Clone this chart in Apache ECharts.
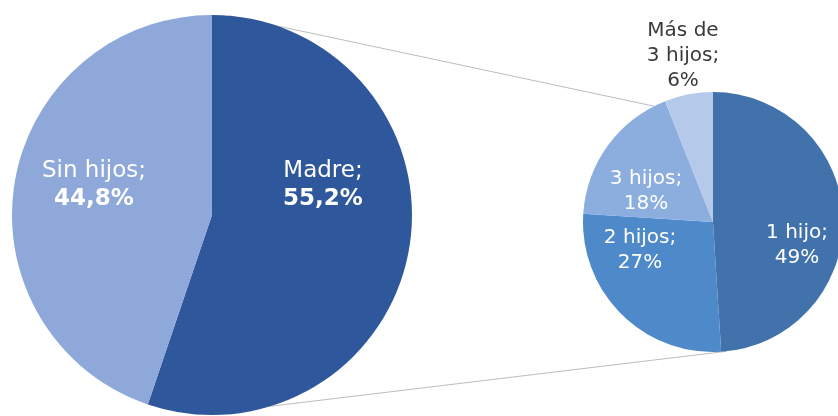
<!DOCTYPE html>
<html>
<head>
<meta charset="utf-8">
<script src="https://cdn.jsdelivr.net/npm/echarts@6/dist/echarts.min.js"></script>
<style>
html, body { margin: 0; padding: 0; background: #fff; }
#main { width: 838px; height: 416px; }
</style>
</head>
<body>
<div id="main"></div>
<script>
// data
const mainNames = ['Madre', 'Sin hijos']
const mainValues = [55.2, 44.8]
const childNames = ['1 hijo', '2 hijos', '3 hijos', 'Más de\n3 hijos']
const childValues = [49, 27, 18, 6]

// look
const mainColors = ['#2f579c', '#8ea8da']
const childColors = ['#4272ac', '#4e8aca', '#8baedf', '#b5caea']
const childLabelColors = ['#fff', '#fff', '#fff', '#3a3a3a']
const font = 'DejaVu Sans'

// layout
const bigCenter = [212, 215]
const bigR = 200
const smallCenter = [713, 222]
const smallR = 130
// label block offsets from each pie's center
const mainLabelPos = [[111, -30], [-118, -30]]
const childLabelPos = [[84, 23], [-73, 28], [-67, -31], [-30, -166]]

const polar = (c, r, deg) => {
  const a = deg * Math.PI / 180
  return [c[0] + r * Math.sin(a), c[1] - r * Math.cos(a)]
}

const chart = echarts.init(document.getElementById('main'))

// connector lines between the two pies
const topA = polar(bigCenter, bigR, 5)
const topB = polar(smallCenter, smallR, 333)
const botA = polar(bigCenter, bigR, 163)
const botB = polar(smallCenter, smallR, 174)

const option = {
  animation: false,
  backgroundColor: '#fff',
  textStyle: { fontFamily: font },
  graphic: [
    { type: 'line', silent: true, z: -1, shape: { x1: topA[0], y1: topA[1], x2: topB[0], y2: topB[1] }, style: { stroke: '#bdbdbd', lineWidth: 1 } },
    { type: 'line', silent: true, z: -1, shape: { x1: botA[0], y1: botA[1], x2: botB[0], y2: botB[1] }, style: { stroke: '#bdbdbd', lineWidth: 1 } }
  ],
  series: [
    {
      type: 'pie',
      center: bigCenter,
      radius: bigR,
      startAngle: 90,
      clockwise: true,
      silent: true,
      data: mainNames.map((n, i) => ({ name: n, value: mainValues[i], itemStyle: { color: mainColors[i] } })),
      label: {
        show: true,
        position: 'inside',
        formatter: p => `{n|${p.name};}\n{v|${String(p.value).replace('.', ',')}%}`,
        rich: {
          n: { color: '#fff', fontSize: 23, lineHeight: 28, fontFamily: font },
          v: { color: '#fff', fontSize: 23, lineHeight: 28, fontWeight: 'bold', fontFamily: font }
        }
      },
      labelLine: { show: false },
      labelLayout: p => ({
        x: bigCenter[0] + mainLabelPos[p.dataIndex][0],
        y: bigCenter[1] + mainLabelPos[p.dataIndex][1],
        align: 'center',
        verticalAlign: 'middle'
      })
    },
    {
      type: 'pie',
      center: smallCenter,
      radius: smallR,
      startAngle: 90,
      clockwise: true,
      silent: true,
      data: childNames.map((n, i) => ({
        name: n,
        value: childValues[i],
        itemStyle: { color: childColors[i] },
        label: { color: childLabelColors[i] }
      })),
      label: {
        show: true,
        position: 'inside',
        formatter: p => `${p.name};\n${p.value}%`,
        fontSize: 20,
        lineHeight: 25,
        align: 'center',
        fontFamily: font
      },
      labelLine: { show: false },
      labelLayout: p => ({
        x: smallCenter[0] + childLabelPos[p.dataIndex][0],
        y: smallCenter[1] + childLabelPos[p.dataIndex][1],
        align: 'center',
        verticalAlign: 'middle'
      })
    }
  ]
}

chart.setOption(option)
</script>
</body>
</html>
